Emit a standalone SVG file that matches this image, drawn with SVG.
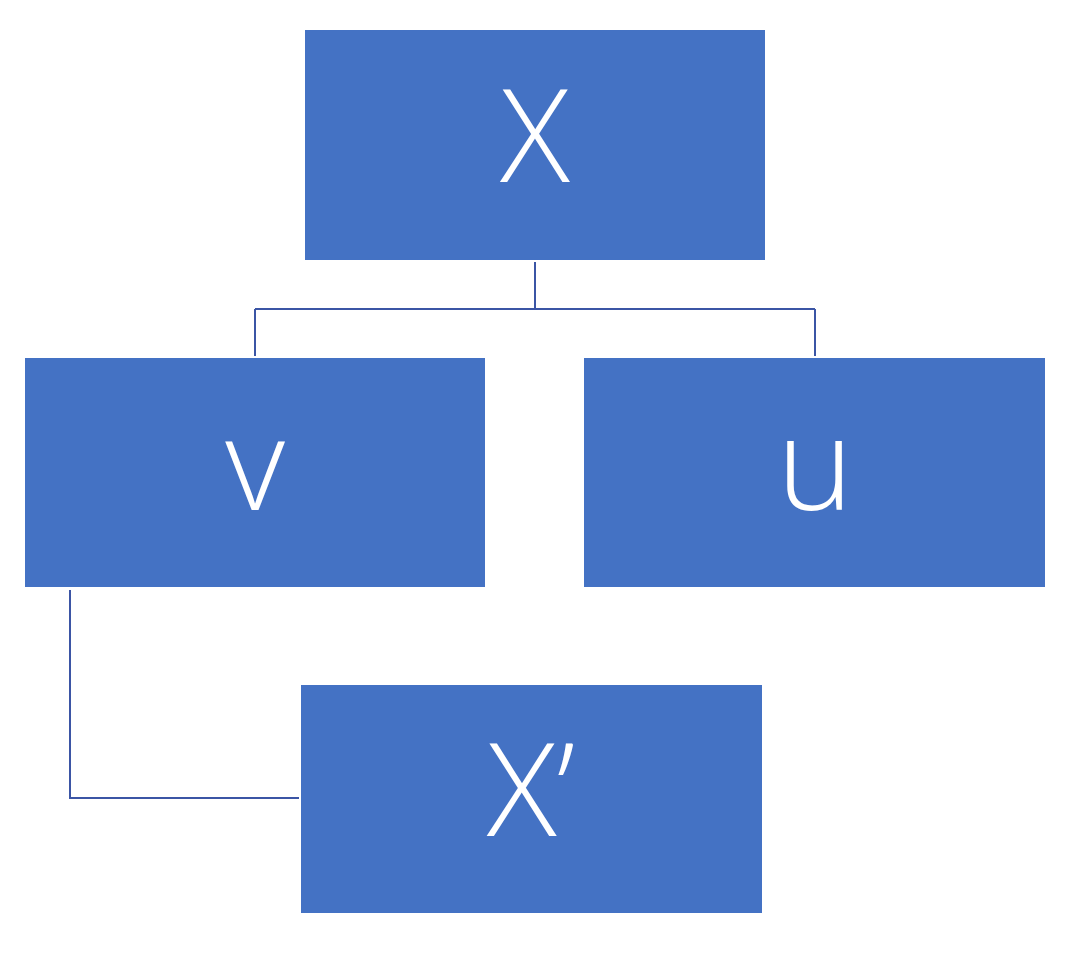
<svg xmlns="http://www.w3.org/2000/svg" width="1069" height="976" viewBox="0 0 1069 976">
<style>
.box{fill:#4472C4}
.lbl{fill:#ffffff;font-family:"Open Sans","Liberation Sans",sans-serif;font-weight:300;font-size:130px;text-anchor:middle}
.conn{fill:none;stroke:#3B55A5;stroke-width:2}
</style>
<rect width="1069" height="976" fill="#ffffff"/>
<g id="connectors">
<path class="conn" d="M535,262 V309 M255,309 H815 M255,309 V356 M815,309 V356"/>
<path class="conn" d="M70,590 V798 H299"/>
</g>
<g id="node-X"><rect class="box" x="305" y="30" width="460" height="230"/><text class="lbl" x="535" y="182">X</text></g>
<g id="node-v"><rect class="box" x="25" y="358" width="460" height="229"/><text class="lbl" x="255" y="510">v</text></g>
<g id="node-u"><rect class="box" x="584" y="358" width="461" height="229"/><text class="lbl" x="815" y="510">u</text></g>
<g id="node-Xp"><rect class="box" x="301" y="685" width="461" height="228"/><text class="lbl" x="531" y="836">X’</text></g>
</svg>
